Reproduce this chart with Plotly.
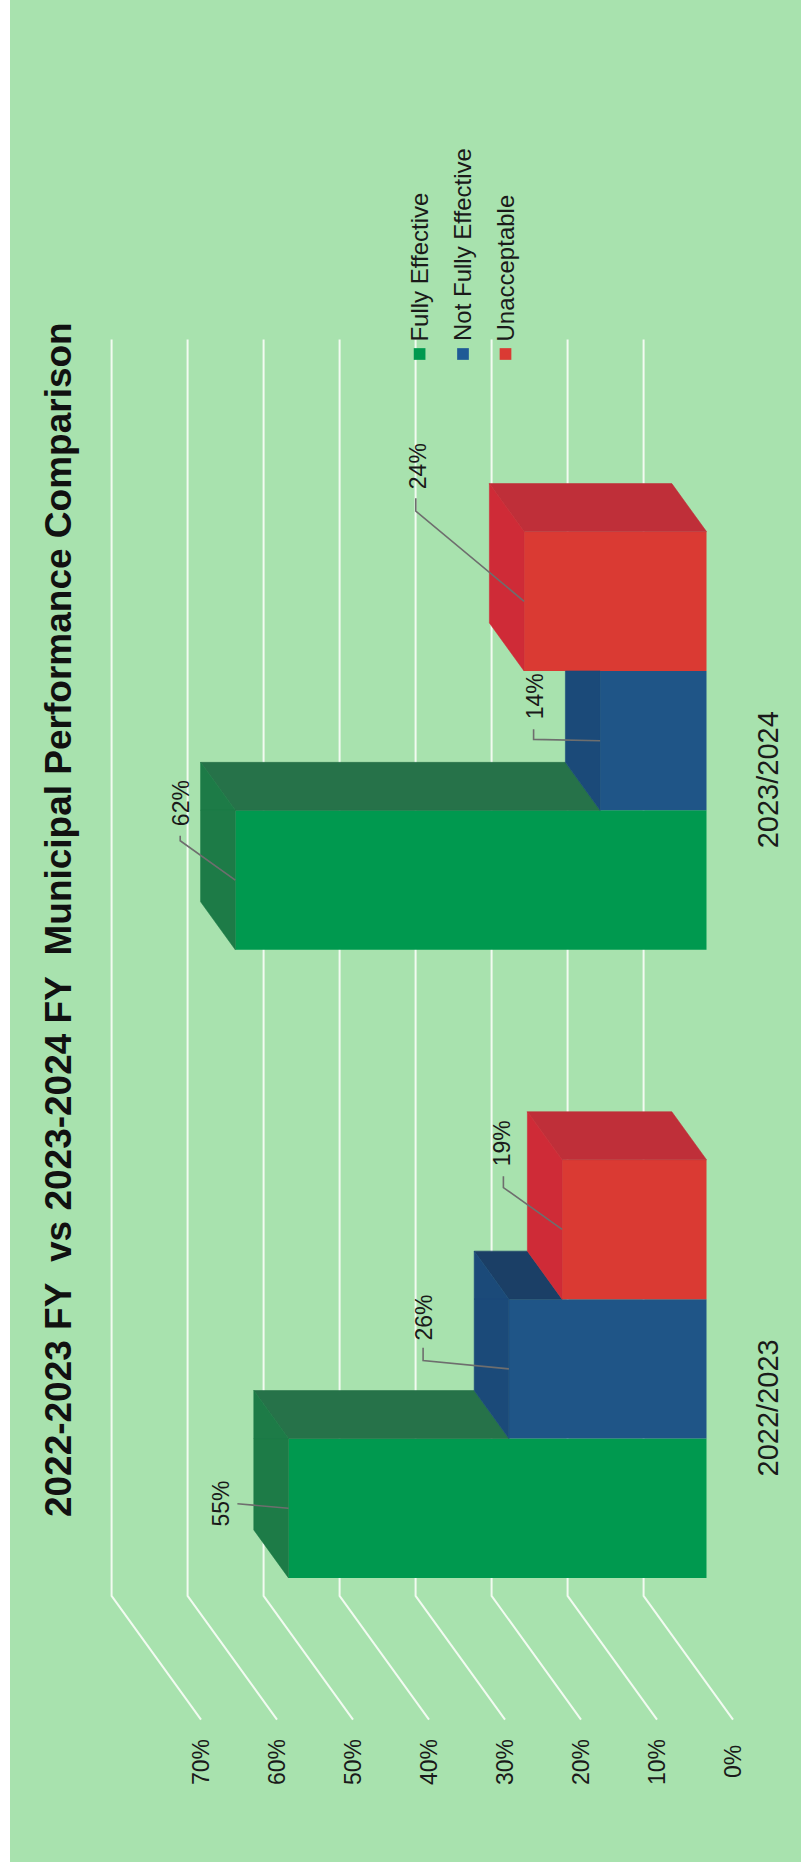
import plotly.graph_objects as go

# ---------------- data ----------------
categories = ["2022/2023", "2023/2024"]
series_names = ["Fully Effective", "Not Fully Effective", "Unacceptable"]
fully_effective = [55, 62]
not_fully_effective = [26, 14]
unacceptable = [19, 24]
value_ticks = [0, 10, 20, 30, 40, 50, 60, 70]
value_tick_labels = ["0%", "10%", "20%", "30%", "40%", "50%", "60%", "70%"]
title_text = "2022-2023 FY\u00a0 vs 2023-2024 FY\u00a0 Municipal Performance Comparison"

series_values = [fully_effective, not_fully_effective, unacceptable]

# ---------------- styling ----------------
front_colors = ["#00994f", "#1f5587", "#da3a33"]
top_colors = ["#1d7b47", "#1b4a79", "#cf2b37"]
side_colors = ["#267249", "#1b3f66", "#bf2f39"]
legend_colors = ["#00994f", "#1f5a96", "#da3a33"]
bg_color = "#a8e2ae"
grid_color = "rgba(246,252,244,0.95)"
leader_color = "#6e6e6e"
text_color = "#1a1a1a"
font_family = "Liberation Sans, Arial, sans-serif"

# ---------------- page geometry ----------------
W, H = 801, 1871
M_L, M_R, M_T, M_B = 10, 0, 0, 9
PLOT_W = W - M_L - M_R
PLOT_H = H - M_T - M_B

PX_PER_PCT = 7.6        # horizontal pixels per percentage point
ZERO_PX = 706.5         # screen x of 0% on the bar front plane
PX_PER_CAT = 628.15     # vertical pixels per category band
EDGE_PX = 1682.9        # screen y of the lower edge of the category range

X_LEFT = (ZERO_PX - M_L) / PX_PER_PCT
X_RIGHT = X_LEFT - PLOT_W / PX_PER_PCT
Y_TOP = -0.5 + (EDGE_PX - M_T) / PX_PER_CAT
Y_BOTTOM = Y_TOP - PLOT_H / PX_PER_CAT


def vx(px):
    """screen x -> value axis"""
    return X_LEFT - (px - M_L) / PX_PER_PCT


def cy(py):
    """screen y -> category axis"""
    return Y_TOP - (py - M_T) / PX_PER_CAT


def paper_x(px):
    return (px - M_L) / PLOT_W


def paper_y(py):
    return 1 - (py - M_T) / PLOT_H


# oblique depth of one bar, in axis units
DX = 34.7 / PX_PER_PCT
DY = 48.0 / PX_PER_CAT
WALL_D = 1.813          # back wall depth (in bar depths)
FRONT_D = -0.764        # front edge of the side wall

BARGAP = 0.3343
BAR_W = (1 - BARGAP) / len(series_values)

# label placement: offsets in px from the bar's value end (label centre,
# leader start, leader elbow)
label_offsets = [
    [(-67.6, -4.6, -51.1, -4.4, -51.1, -4.4), (-54.1, -77.1, -55.1, -44.3, -55.1, -39.3)],
    [(-84.5, -51.7, -85.8, -21.0, -85.8, -8.2), (-64.8, -44.7, -66.5, -11.5, -66.5, -1.3)],
    [(-59.9, -86.4, -58.7, -53.1, -58.7, -41.9), (-106.2, -135.0, -108.3, -103.0, -108.3, -90.2)],
]


def clip(poly, f):
    """Clip a convex polygon against the half plane f(p) >= 0."""
    out = []
    n = len(poly)
    for i in range(n):
        a, b = poly[i], poly[(i + 1) % n]
        fa, fb = f(a), f(b)
        if fa >= 0:
            out.append(a)
        if (fa >= 0) != (fb >= 0):
            t = fa / (fa - fb)
            out.append((a[0] + t * (b[0] - a[0]), a[1] + t * (b[1] - a[1])))
    return out


def polys_to_xy(polys):
    xs, ys = [], []
    for p in polys:
        if len(p) < 3:
            continue
        xs += [q[0] for q in p] + [p[0][0], None]
        ys += [q[1] for q in p] + [p[0][1], None]
    return xs, ys


fig = go.Figure()

# front faces of the bars
cat_pos = list(range(len(categories)))
for k, (name, vals) in enumerate(zip(series_names, series_values)):
    fig.add_trace(go.Bar(
        y=cat_pos, x=vals, orientation="h", name=name,
        marker=dict(color=front_colors[k], line=dict(width=0)),
        showlegend=False, hoverinfo="skip",
    ))

# top (value end) and side faces, clipped where the next bar hides them
n_series = len(series_values)
for k in range(n_series):
    top_polys, side_polys = [], []
    for c in cat_pos:
        v = series_values[k][c]
        yc = c + (k - (n_series - 1) / 2) * BAR_W
        ylo, yhi = yc - BAR_W / 2, yc + BAR_W / 2
        P = [(v, ylo), (v, yhi), (v + DX, yhi + DY), (v + DX, ylo + DY)]
        S = [(0, yhi), (v, yhi), (v + DX, yhi + DY), (DX, yhi + DY)]
        if k + 1 < n_series:
            vn = series_values[k + 1][c]

            def f_vis(p, vn=vn, yhi=yhi):
                return (p[0] - vn) - DX * (p[1] - yhi) / DY

            top_polys.append(clip(P, lambda p, yhi=yhi: yhi - p[1]))
            top_polys.append(clip(clip(P, lambda p, yhi=yhi: p[1] - yhi), f_vis))
            side_polys.append(clip(S, f_vis))
        else:
            top_polys.append(P)
            side_polys.append(S)
    for polys, col in ((side_polys, side_colors[k]), (top_polys, top_colors[k])):
        xs, ys = polys_to_xy(polys)
        fig.add_trace(go.Scatter(
            x=xs, y=ys, mode="lines", fill="toself", fillcolor=col,
            line=dict(color=col, width=0.6), showlegend=False, hoverinfo="skip",
        ))

# walls: gridlines on the back wall and the side wall
shapes = []
y0_cat, y1_cat = -0.5, len(categories) - 0.5
for v in value_ticks:
    xb = v + WALL_D * DX
    path = (f"M {xb},{y1_cat + WALL_D * DY} L {xb},{y0_cat + WALL_D * DY} "
            f"L {v + FRONT_D * DX},{y0_cat + FRONT_D * DY}")
    shapes.append(dict(type="path", path=path, xref="x", yref="y", layer="below",
                       line=dict(color=grid_color, width=2)))

annotations = []

# value axis labels along the front of the side wall
for v, t in zip(value_ticks, value_tick_labels):
    annotations.append(dict(
        x=v + FRONT_D * DX, y=cy(1762), xref="x", yref="y", text=t,
        textangle=-90, showarrow=False, xanchor="center", yanchor="middle",
        font=dict(size=23, color=text_color, family=font_family),
    ))

# category labels
for c, name in zip(cat_pos, categories):
    annotations.append(dict(
        x=vx(767.7), y=c - 38.9 / PX_PER_CAT, xref="x", yref="y", text=name,
        textangle=-90, showarrow=False, xanchor="center", yanchor="middle",
        font=dict(size=29, color=text_color, family=font_family),
    ))

# value labels with leader lines
lead_x, lead_y = [], []
for k in range(n_series):
    for c in cat_pos:
        v = series_values[k][c]
        yc = c + (k - (n_series - 1) / 2) * BAR_W
        lx, ly, sx, sy, ex, ey = label_offsets[k][c]
        annotations.append(dict(
            x=v - lx / PX_PER_PCT, y=yc - ly / PX_PER_CAT, xref="x", yref="y",
            text=f"{v}%", textangle=-90, showarrow=False,
            xanchor="center", yanchor="middle",
            font=dict(size=23, color=text_color, family=font_family),
        ))
        lead_x += [v - sx / PX_PER_PCT, v - ex / PX_PER_PCT, v, None]
        lead_y += [yc - sy / PX_PER_CAT, yc - ey / PX_PER_CAT, yc, None]

fig.add_trace(go.Scatter(
    x=lead_x, y=lead_y, mode="lines", line=dict(color=leader_color, width=1.6),
    showlegend=False, hoverinfo="skip",
))

# title
annotations.append(dict(
    x=paper_x(58.7), y=paper_y(919.4), xref="paper", yref="paper",
    text=title_text, textangle=-90, showarrow=False,
    xanchor="center", yanchor="middle",
    font=dict(size=37, color="#111111", family=font_family, weight="bold"),
))

# legend
legend_cx = [419.6, 463.0, 505.5]
sq = 11.7
for k, name in enumerate(series_names):
    cx = legend_cx[k]
    shapes.append(dict(
        type="rect", xref="paper", yref="paper",
        x0=paper_x(cx - sq / 2), x1=paper_x(cx + sq / 2),
        y0=paper_y(354 + sq / 2), y1=paper_y(354 - sq / 2),
        fillcolor=legend_colors[k], line=dict(width=0),
    ))
    annotations.append(dict(
        x=paper_x(cx), y=paper_y(343.5), xref="paper", yref="paper",
        text=name, textangle=-90, showarrow=False,
        xanchor="center", yanchor="bottom",
        font=dict(size=24, color=text_color, family=font_family),
    ))

fig.update_layout(
    width=W, height=H,
    margin=dict(l=M_L, r=M_R, t=M_T, b=M_B, pad=0, autoexpand=False),
    paper_bgcolor="white", plot_bgcolor=bg_color,
    barmode="group", bargap=BARGAP, bargroupgap=0,
    showlegend=False,
    xaxis=dict(range=[X_LEFT, X_RIGHT], visible=False, showgrid=False,
               zeroline=False, fixedrange=True),
    yaxis=dict(range=[Y_BOTTOM, Y_TOP], visible=False, showgrid=False,
               zeroline=False, fixedrange=True),
    shapes=shapes, annotations=annotations,
    font=dict(family=font_family),
)

fig.write_html("out.html", config={"displayModeBar": False})
